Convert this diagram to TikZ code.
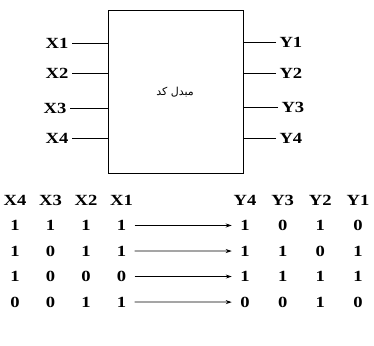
\documentclass[tikz,border=0pt]{standalone}
\usepackage{fontspec}
\setmainfont[FakeStretch=1.2]{Liberation Serif}
\newfontfamily\arabicfont[Script=Arabic]{DejaVu Sans}
\TeXXeTstate=1
\usetikzlibrary{matrix,arrows.meta}

\begin{document}
\begin{tikzpicture}[x=1pt, y=-1pt, font=\fontsize{15.5}{17}\selectfont\bfseries,
  pinline/.style={line width=0.8pt},
  maps/.style={line width=0.8pt, -{Stealth[length=6pt,width=4pt]}},
  codetab/.style={matrix of nodes, inner sep=0pt, row sep=5.5pt,
    nodes={minimum width=26pt, minimum height=20pt, inner sep=0pt}}]
  \useasboundingbox (0,0) rectangle (374,345);
  % the converter block
  \node[draw, line width=0.9pt, minimum width=135pt, minimum height=163pt] (conv) at (175.5,91.5) {};
  \node[font=\arabicfont\fontsize{11}{13}\selectfont] (title) at (175,92) {\beginR مبدل کد\endR};
  \node[anchor=east] (x1) at (72,43) {X1};
  \node[anchor=east] (x2) at (72,73) {X2};
  \node[anchor=east] (x3) at (70,108) {X3};
  \node[anchor=east] (x4) at (72,138) {X4};
  \node[anchor=west] (y1) at (276,42) {Y1};
  \node[anchor=west] (y2) at (276,73) {Y2};
  \node[anchor=west] (y3) at (278,107) {Y3};
  \node[anchor=west] (y4) at (276,138) {Y4};
  \draw[pinline] (x1.east) -- (x1.east -| conv.west);
  \draw[pinline] (x2.east) -- (x2.east -| conv.west);
  \draw[pinline] (x3.east) -- (x3.east -| conv.west);
  \draw[pinline] (x4.east) -- (x4.east -| conv.west);
  \draw[pinline] (y1.west) -- (y1.west -| conv.east);
  \draw[pinline] (y2.west) -- (y2.west -| conv.east);
  \draw[pinline] (y3.west) -- (y3.west -| conv.east);
  \draw[pinline] (y4.west) -- (y4.west -| conv.east);
  % code table
  \matrix[codetab, column sep=9.5pt] (xtab) at (68.25,251) {
    X4 & X3 & X2 & X1 \\
    1 & 1 & 1 & 1 \\
    1 & 0 & 1 & 1 \\
    1 & 0 & 0 & 0 \\
    0 & 0 & 1 & 1 \\
  };
  \matrix[codetab, column sep=11.7pt] (ytab) at (301.5,251) {
    Y4 & Y3 & Y2 & Y1 \\
    1 & 0 & 1 & 0 \\
    1 & 1 & 0 & 1 \\
    1 & 1 & 1 & 1 \\
    0 & 0 & 1 & 0 \\
  };
  \draw[maps] (xtab-2-4.east) -- (ytab-2-1.west);
  \draw[maps] (xtab-3-4.east) -- (ytab-3-1.west);
  \draw[maps] (xtab-4-4.east) -- (ytab-4-1.west);
  \draw[maps] (xtab-5-4.east) -- (ytab-5-1.west);
\end{tikzpicture}
\end{document}
